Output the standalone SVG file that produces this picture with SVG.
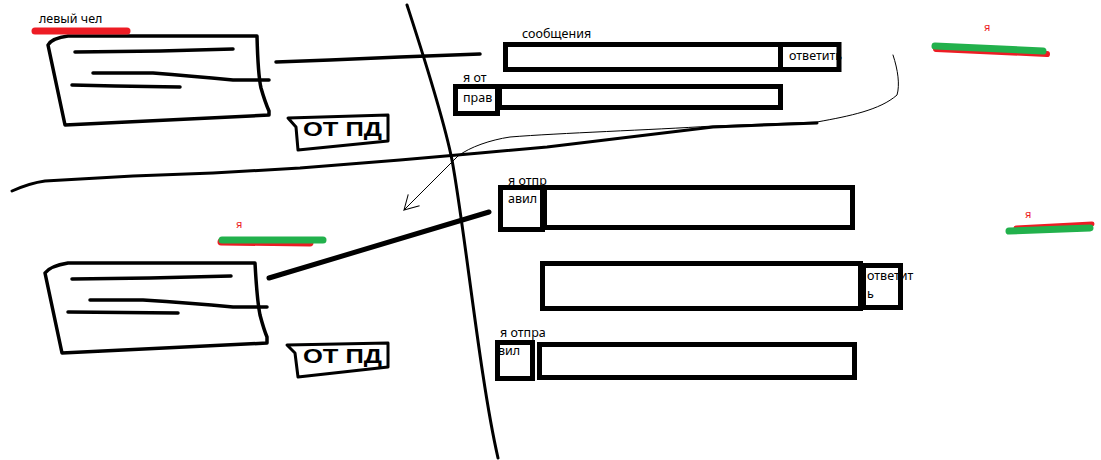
<svg xmlns="http://www.w3.org/2000/svg" width="1101" height="460" viewBox="0 0 1101 460">
  <style>
    .ink { fill: none; stroke: #000; stroke-linecap: round; stroke-linejoin: round; }
    .card { stroke-width: 3.5; }
    .frame { fill: none; stroke: #000; stroke-width: 5; }
    .label { font-family: "Noto Sans", "Open Sans", sans-serif; font-size: 12.5px; fill: #000; }
    .me { font-family: "Noto Sans", sans-serif; font-size: 11px; fill: #ed1c24; }
    .badge-text { font-family: "Liberation Sans", Arial, sans-serif; font-weight: bold; font-size: 21px; fill: #000; }
    .hl-red { fill: none; stroke: #ed1c24; stroke-linecap: round; }
    .hl-green { fill: none; stroke: #22b14c; stroke-width: 7; stroke-linecap: round; }
  </style>
  <defs>
    <!-- open hand-drawn arrowhead -->
    <marker id="open-arrow" viewBox="-16 -10 20 20" refX="0" refY="0" markerWidth="20" markerHeight="20" markerUnits="userSpaceOnUse" orient="auto">
      <path d="M-14,-8 L0,0 L-14,8" fill="none" stroke="#000" stroke-width="1"/>
    </marker>
  </defs>
  <rect width="1101" height="460" fill="#fff"/>

  <!-- dividing strokes and links -->
  <g id="connectors">
    <path class="ink" stroke-width="3" d="M407,5 C420,45 443,115 452,160 C465,230 480,380 498,458"/>
    <path class="ink" stroke-width="3" d="M12,191 Q30,183 45,181 L133,176 L213,173 L300,168 L400,160 L480,153 L547,147 L713,127 L817,123"/>
    <path class="ink" stroke-width="3.5" d="M276,62 L330,60 L400,57 L480,54"/>
    <path class="ink" stroke-width="5" d="M269,278 L489,212"/>
    <path class="ink" stroke-width="1" marker-end="url(#open-arrow)" d="M893,55 C898,70 900,85 897,95 C880,110 850,116 817,122 L713,126 C650,130 560,133 510,137 C490,140 470,147 458,156 L404,210"/>
  </g>

  <!-- left column: message cards -->
  <g id="card-top">
    <path class="ink card" d="M48,45 Q52,38 68,36 L257,36 Q258,75 261,88 Q265,102 269,111 L269,115 L65,125 Z"/>
    <path class="ink card" d="M75,52 L160,51 L233,49"/>
    <path class="ink card" d="M93,73 L153,73 Q190,76 233,80 L269,80"/>
    <path class="ink card" d="M72,85 L115,86 L180,87"/>
  </g>
  <g id="card-bottom">
    <path class="ink card" d="M45,273 Q50,266 68,263 L255,263 Q257,300 260,315 Q264,330 267,337 L267,343 L62,353 Z"/>
    <path class="ink card" d="M72,279 L150,278 L231,276"/>
    <path class="ink card" d="M90,300 L143,300 Q190,303 233,307 L267,307"/>
    <path class="ink card" d="M68,312 L178,313"/>
  </g>
  <g id="badge-top">
    <path class="ink" stroke-width="3" d="M288,118 L388,115 L388,141 L298,150 L296,127 Z"/>
    <text class="badge-text" x="303" y="136" textLength="79" lengthAdjust="spacingAndGlyphs">ОТ ПД</text>
  </g>
  <g id="badge-bottom">
    <path class="ink" stroke-width="3" d="M287,345 L388,343 L388,367 L298,377 L295,353 Z"/>
    <text class="badge-text" x="303" y="363" textLength="79" lengthAdjust="spacingAndGlyphs">ОТ ПД</text>
  </g>

  <!-- highlight marks -->
  <g id="mark-left">
    <path class="hl-red" stroke-width="7" d="M35,31 L127,31"/>
    <text class="label" x="39" y="23">левый чел</text>
  </g>
  <g id="mark-mid">
    <path class="hl-red" stroke-width="7" d="M221,242 L310,243"/>
    <path class="hl-green" d="M222,240 L323,240"/>
    <text class="me" x="236" y="228">я</text>
  </g>
  <g id="mark-top-right">
    <path class="hl-red" stroke-width="6" d="M936,49 L1047,54"/>
    <path class="hl-green" d="M935,46 L1043,51"/>
    <text class="me" x="984" y="31">я</text>
  </g>
  <g id="mark-right">
    <path class="hl-red" stroke-width="5" d="M1016,228 L1092,224"/>
    <path class="hl-green" d="M1009,231 L1090,228"/>
    <text class="me" x="1025" y="218">я</text>
  </g>

  <!-- right column: message rows -->
  <g id="row-incoming">
    <text class="label" x="522" y="38">сообщения</text>
    <rect class="frame" x="505.5" y="44.5" width="275" height="25"/>
    <text class="label" x="789" y="60">ответить</text>
    <path class="frame" stroke-width="4.5" d="M783,44.5 H839 V69.5 H783"/>
  </g>
  <g id="row-sent-1">
    <text class="label" x="463" y="82">я от</text>
    <text class="label" x="463" y="102">прав</text>
    <rect class="frame" x="455.5" y="86.5" width="42" height="27"/>
    <rect class="frame" x="499.5" y="86.5" width="281" height="21"/>
  </g>
  <g id="row-sent-2">
    <text class="label" x="508" y="185">я отпр</text>
    <text class="label" x="508" y="203">авил</text>
    <rect class="frame" x="500.5" y="187.5" width="42" height="42"/>
    <rect class="frame" x="544.5" y="187.5" width="308" height="40"/>
  </g>
  <g id="row-incoming-2">
    <rect class="frame" x="542.5" y="263.5" width="318" height="45"/>
    <text class="label" x="867" y="280">ответит</text>
    <text class="label" x="867" y="298">ь</text>
    <rect class="frame" x="863.5" y="265.5" width="37" height="42"/>
  </g>
  <g id="row-sent-3">
    <text class="label" x="500" y="337">я отпра</text>
    <text class="label" x="498" y="355">вил</text>
    <rect class="frame" x="497.5" y="342.5" width="35" height="36"/>
    <rect class="frame" x="539.5" y="344.5" width="315" height="33"/>
  </g>
</svg>
